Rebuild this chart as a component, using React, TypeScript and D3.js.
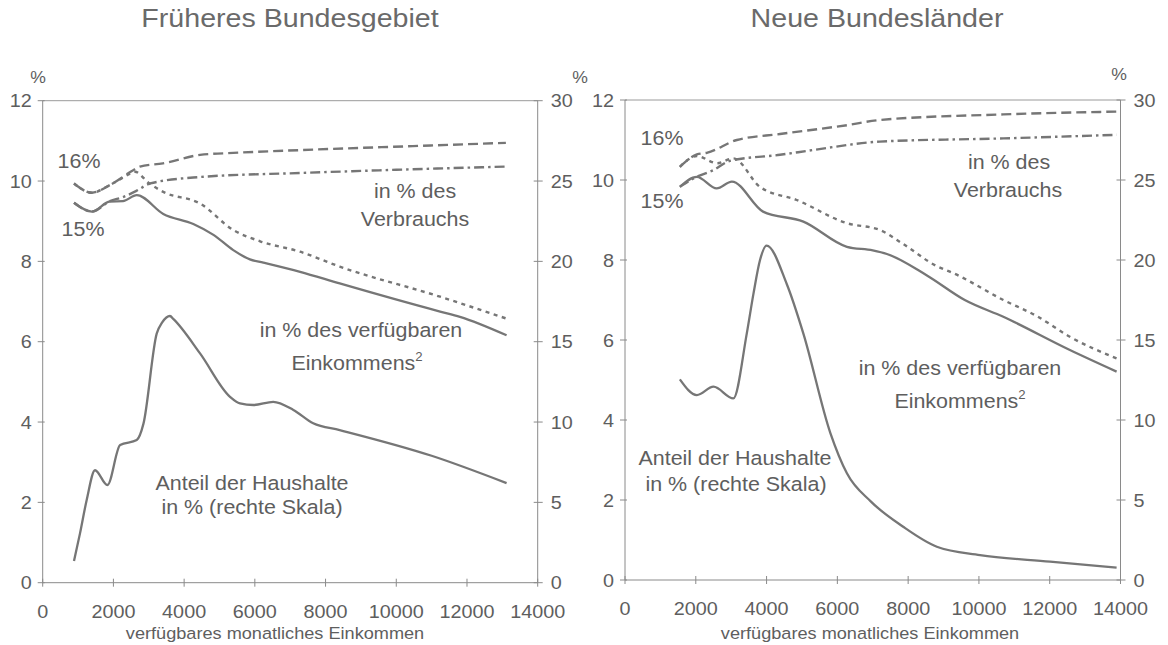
import React from 'react';
import * as d3 from 'd3';

const xTicks = [0, 2000, 4000, 6000, 8000, 10000, 12000, 14000];
const yLeftTicks = [0, 2, 4, 6, 8, 10, 12];
const yRightTicks = [0, 5, 10, 15, 20, 25, 30];

// Früheres Bundesgebiet (left scale, %)
const westEinkommen15: [number, number][] = [
  [885, 9.46], [1390, 9.24], [1900, 9.49], [2270, 9.5], [2660, 9.65], [3410, 9.18], [4260, 8.93],
  [4830, 8.66], [5390, 8.28], [5860, 8.05], [6240, 7.97], [7280, 7.74], [8400, 7.45], [11240, 6.75],
  [11800, 6.62], [13120, 6.16],
];
const westEinkommen16: [number, number][] = [
  [885, 9.94], [1390, 9.71], [1900, 9.9], [2300, 10.1], [2610, 10.23], [3000, 9.95], [3410, 9.73],
  [4450, 9.44], [5390, 8.78], [6150, 8.5], [7280, 8.24], [8400, 7.87], [11240, 7.12], [13100, 6.58],
];
const westVerbrauch16: [number, number][] = [
  [885, 9.94], [1390, 9.71], [1900, 9.9], [2560, 10.27], [2750, 10.36], [3400, 10.44], [4450, 10.65],
  [5390, 10.7], [7280, 10.77], [10470, 10.87], [13100, 10.95],
];
const westVerbrauch15: [number, number][] = [
  [885, 9.46], [1390, 9.24], [1900, 9.5], [2270, 9.6], [2660, 9.76], [3040, 9.94], [4450, 10.1],
  [7280, 10.2], [10000, 10.28], [13100, 10.36],
];
// Anteil der Haushalte (right scale, %)
const westHaushalte: [number, number][] = [
  [885, 1.35], [1055, 3.07], [1244, 5.15], [1480, 7.0], [1830, 6.08], [2190, 8.57], [2660, 8.88],
  [2850, 9.9], [3224, 15.5], [3380, 16.2], [3600, 16.6], [3700, 16.4], [4450, 14.27], [5297, 11.57],
  [5580, 11.16], [5960, 11.06], [6520, 11.26], [7090, 10.75], [7650, 9.92], [8400, 9.5], [11000, 7.9],
  [13120, 6.2],
];

// Neue Bundesländer
const eastEinkommen15: [number, number][] = [
  [1550, 9.83], [2030, 10.08], [2590, 9.79], [3020, 9.96], [3900, 9.21], [5040, 8.96], [6270, 8.33],
  [7000, 8.24], [7400, 8.15], [8520, 7.62], [9600, 7.0], [10690, 6.58], [12570, 5.75], [13890, 5.21],
];
const eastEinkommen16: [number, number][] = [
  [1550, 10.33], [2030, 10.6], [2600, 10.42], [3060, 10.54], [3810, 9.83], [4850, 9.5], [6270, 8.92],
  [7200, 8.75], [7860, 8.4], [8800, 7.85], [9280, 7.67], [10690, 7.0], [11630, 6.6], [12570, 6.08],
  [13890, 5.54],
];
const eastVerbrauch16: [number, number][] = [
  [1550, 10.33], [2030, 10.64], [2310, 10.68], [3160, 11.0], [4380, 11.15], [6270, 11.37],
  [7200, 11.5], [10690, 11.64], [13890, 11.71],
];
const eastVerbrauch15: [number, number][] = [
  [1550, 9.83], [2030, 10.08], [2500, 10.25], [2970, 10.48], [4380, 10.63], [5320, 10.75],
  [7200, 10.96], [10690, 11.04], [13890, 11.13],
];
const eastHaushalte: [number, number][] = [
  [1550, 12.54], [2030, 11.56], [2500, 12.08], [3060, 11.35], [3440, 15.4], [3630, 17.9], [3815, 20.0],
  [4000, 20.9], [4570, 18.5], [5040, 15.4], [5800, 9.2], [6270, 6.67], [6950, 4.9], [7860, 3.33],
  [8810, 2.08], [10030, 1.56], [12010, 1.15], [13890, 0.77],
];

const titles = ['Früheres Bundesgebiet', 'Neue Bundesländer'];
const xTitle = 'verfügbares monatliches Einkommen';

const FONT = '"Liberation Sans", Arial, Helvetica, sans-serif';
const TEXT = '#5e5e5e';
const LINE = '#767676';
const AXIS = '#8a8a8a';
const SX = 1.1;

type TProps = {
  x: number; y: number; size: number; anchor?: 'start' | 'middle' | 'end'; children: React.ReactNode;
  fill?: string;
};
const T = ({ x, y, size, anchor = 'middle', children, fill = TEXT }: TProps) => (
  <text transform={`translate(${x},${y}) scale(${SX},1)`} fontSize={size} textAnchor={anchor}
    fontFamily={FONT} fill={fill}>{children}</text>
);

type Frame = { x0: number; x1: number; yTop: number; yBot: number };
type Panel = {
  frame: Frame;
  eink15: [number, number][]; eink16: [number, number][];
  verb16: [number, number][]; verb15: [number, number][];
  hh: [number, number][];
};

function PanelView({ p }: { p: Panel }) {
  const { frame } = p;
  const x = d3.scaleLinear().domain([0, 14000]).range([frame.x0, frame.x1]);
  const yL = d3.scaleLinear().domain([0, 12]).range([frame.yBot, frame.yTop]);
  const yR = d3.scaleLinear().domain([0, 30]).range([frame.yBot, frame.yTop]);
  const lineL = d3.line<[number, number]>().x(d => x(d[0])).y(d => yL(d[1])).curve(d3.curveMonotoneX);
  const lineR = d3.line<[number, number]>().x(d => x(d[0])).y(d => yR(d[1])).curve(d3.curveMonotoneX);
  return (
    <g>
      <line x1={frame.x0} x2={frame.x1} y1={frame.yTop} y2={frame.yTop} stroke="#9a9a9a" strokeWidth={1} />
      <line x1={frame.x0} x2={frame.x1} y1={frame.yBot} y2={frame.yBot} stroke={AXIS} strokeWidth={1} />
      <line x1={frame.x0} x2={frame.x0} y1={frame.yTop} y2={frame.yBot} stroke={AXIS} strokeWidth={1} />
      <line x1={frame.x1} x2={frame.x1} y1={frame.yTop} y2={frame.yBot} stroke={AXIS} strokeWidth={1} />
      {xTicks.map(t => (
        <g key={'x' + t}>
          <line x1={x(t)} x2={x(t)} y1={frame.yBot - 4} y2={frame.yBot + 4} stroke={AXIS} />
          <T x={x(t)} y={frame.yBot + 35} size={18}>{t}</T>
        </g>
      ))}
      {yLeftTicks.map(t => (
        <g key={'yl' + t}>
          <line x1={frame.x0 - 5} x2={frame.x0 + 2} y1={yL(t)} y2={yL(t)} stroke={AXIS} />
          <T x={frame.x0 - 11} y={yL(t) + 6.5} size={18} anchor="end">{t}</T>
        </g>
      ))}
      {yRightTicks.map(t => (
        <g key={'yr' + t}>
          <line x1={frame.x1 - 4} x2={frame.x1 + 5} y1={yR(t)} y2={yR(t)} stroke={AXIS} />
          <T x={frame.x1 + 13} y={yR(t) + 6.5} size={18} anchor="start">{t}</T>
        </g>
      ))}
      <path d={lineL(p.verb16) || ''} fill="none" stroke={LINE} strokeWidth={2.4} strokeDasharray="10,5" />
      <path d={lineL(p.verb15) || ''} fill="none" stroke={LINE} strokeWidth={2.4} strokeDasharray="10,4,2.5,4" />
      <path d={lineL(p.eink16) || ''} fill="none" stroke={LINE} strokeWidth={2.4} strokeDasharray="4,4.5" />
      <path d={lineL(p.eink15) || ''} fill="none" stroke={LINE} strokeWidth={2.3} />
      <path d={lineR(p.hh) || ''} fill="none" stroke={LINE} strokeWidth={2.3} />
    </g>
  );
}

export default function App() {
  const west: Panel = {
    frame: { x0: 42.7, x1: 537.7, yTop: 100.7, yBot: 582.7 },
    eink15: westEinkommen15, eink16: westEinkommen16, verb16: westVerbrauch16, verb15: westVerbrauch15,
    hh: westHaushalte,
  };
  const east: Panel = {
    frame: { x0: 625, x1: 1120.5, yTop: 100, yBot: 580 },
    eink15: eastEinkommen15, eink16: eastEinkommen16, verb16: eastVerbrauch16, verb15: eastVerbrauch15,
    hh: eastHaushalte,
  };
  return (
    <svg width={1168} height={645} style={{ position: 'absolute', left: 0, top: 0, background: '#fff' }}>
      <rect x={0} y={0} width={1168} height={645} fill="#fff" />
      <T x={290} y={27} size={26} fill="#6a6a6a">{titles[0]}</T>
      <T x={877} y={27} size={26} fill="#6a6a6a">{titles[1]}</T>
      <PanelView p={west} />
      <PanelView p={east} />
      <T x={38} y={83} size={16}>%</T>
      <T x={580} y={83} size={16}>%</T>
      <T x={1119} y={80} size={16}>%</T>

      <T x={275} y={639} size={16.5}>{xTitle}</T>
      <T x={870} y={639} size={16.5}>{xTitle}</T>

      {/* West annotations */}
      <T x={79} y={168} size={19.5}>16%</T>
      <T x={83} y={236} size={19.5}>15%</T>
      <T x={415} y={198} size={19.5}>in % des</T>
      <T x={415} y={226} size={19.5}>Verbrauchs</T>
      <T x={361} y={337} size={19.5}>in % des verfügbaren</T>
      <T x={357} y={370} size={19.5}>Einkommens<tspan fontSize={12} dy={-9}>2</tspan></T>
      <T x={252} y={490} size={19.5}>Anteil der Haushalte</T>
      <T x={252} y={514} size={19.5}>in % (rechte Skala)</T>

      {/* East annotations */}
      <T x={662} y={145} size={19.5}>16%</T>
      <T x={662} y={208} size={19.5}>15%</T>
      <T x={1009} y={169} size={19.5}>in % des</T>
      <T x={1008} y={197} size={19.5}>Verbrauchs</T>
      <T x={960} y={375} size={19.5}>in % des verfügbaren</T>
      <T x={960} y={408} size={19.5}>Einkommens<tspan fontSize={12} dy={-9}>2</tspan></T>
      <T x={735} y={465} size={19.5}>Anteil der Haushalte</T>
      <T x={736} y={491} size={19.5}>in % (rechte Skala)</T>
    </svg>
  );
}
